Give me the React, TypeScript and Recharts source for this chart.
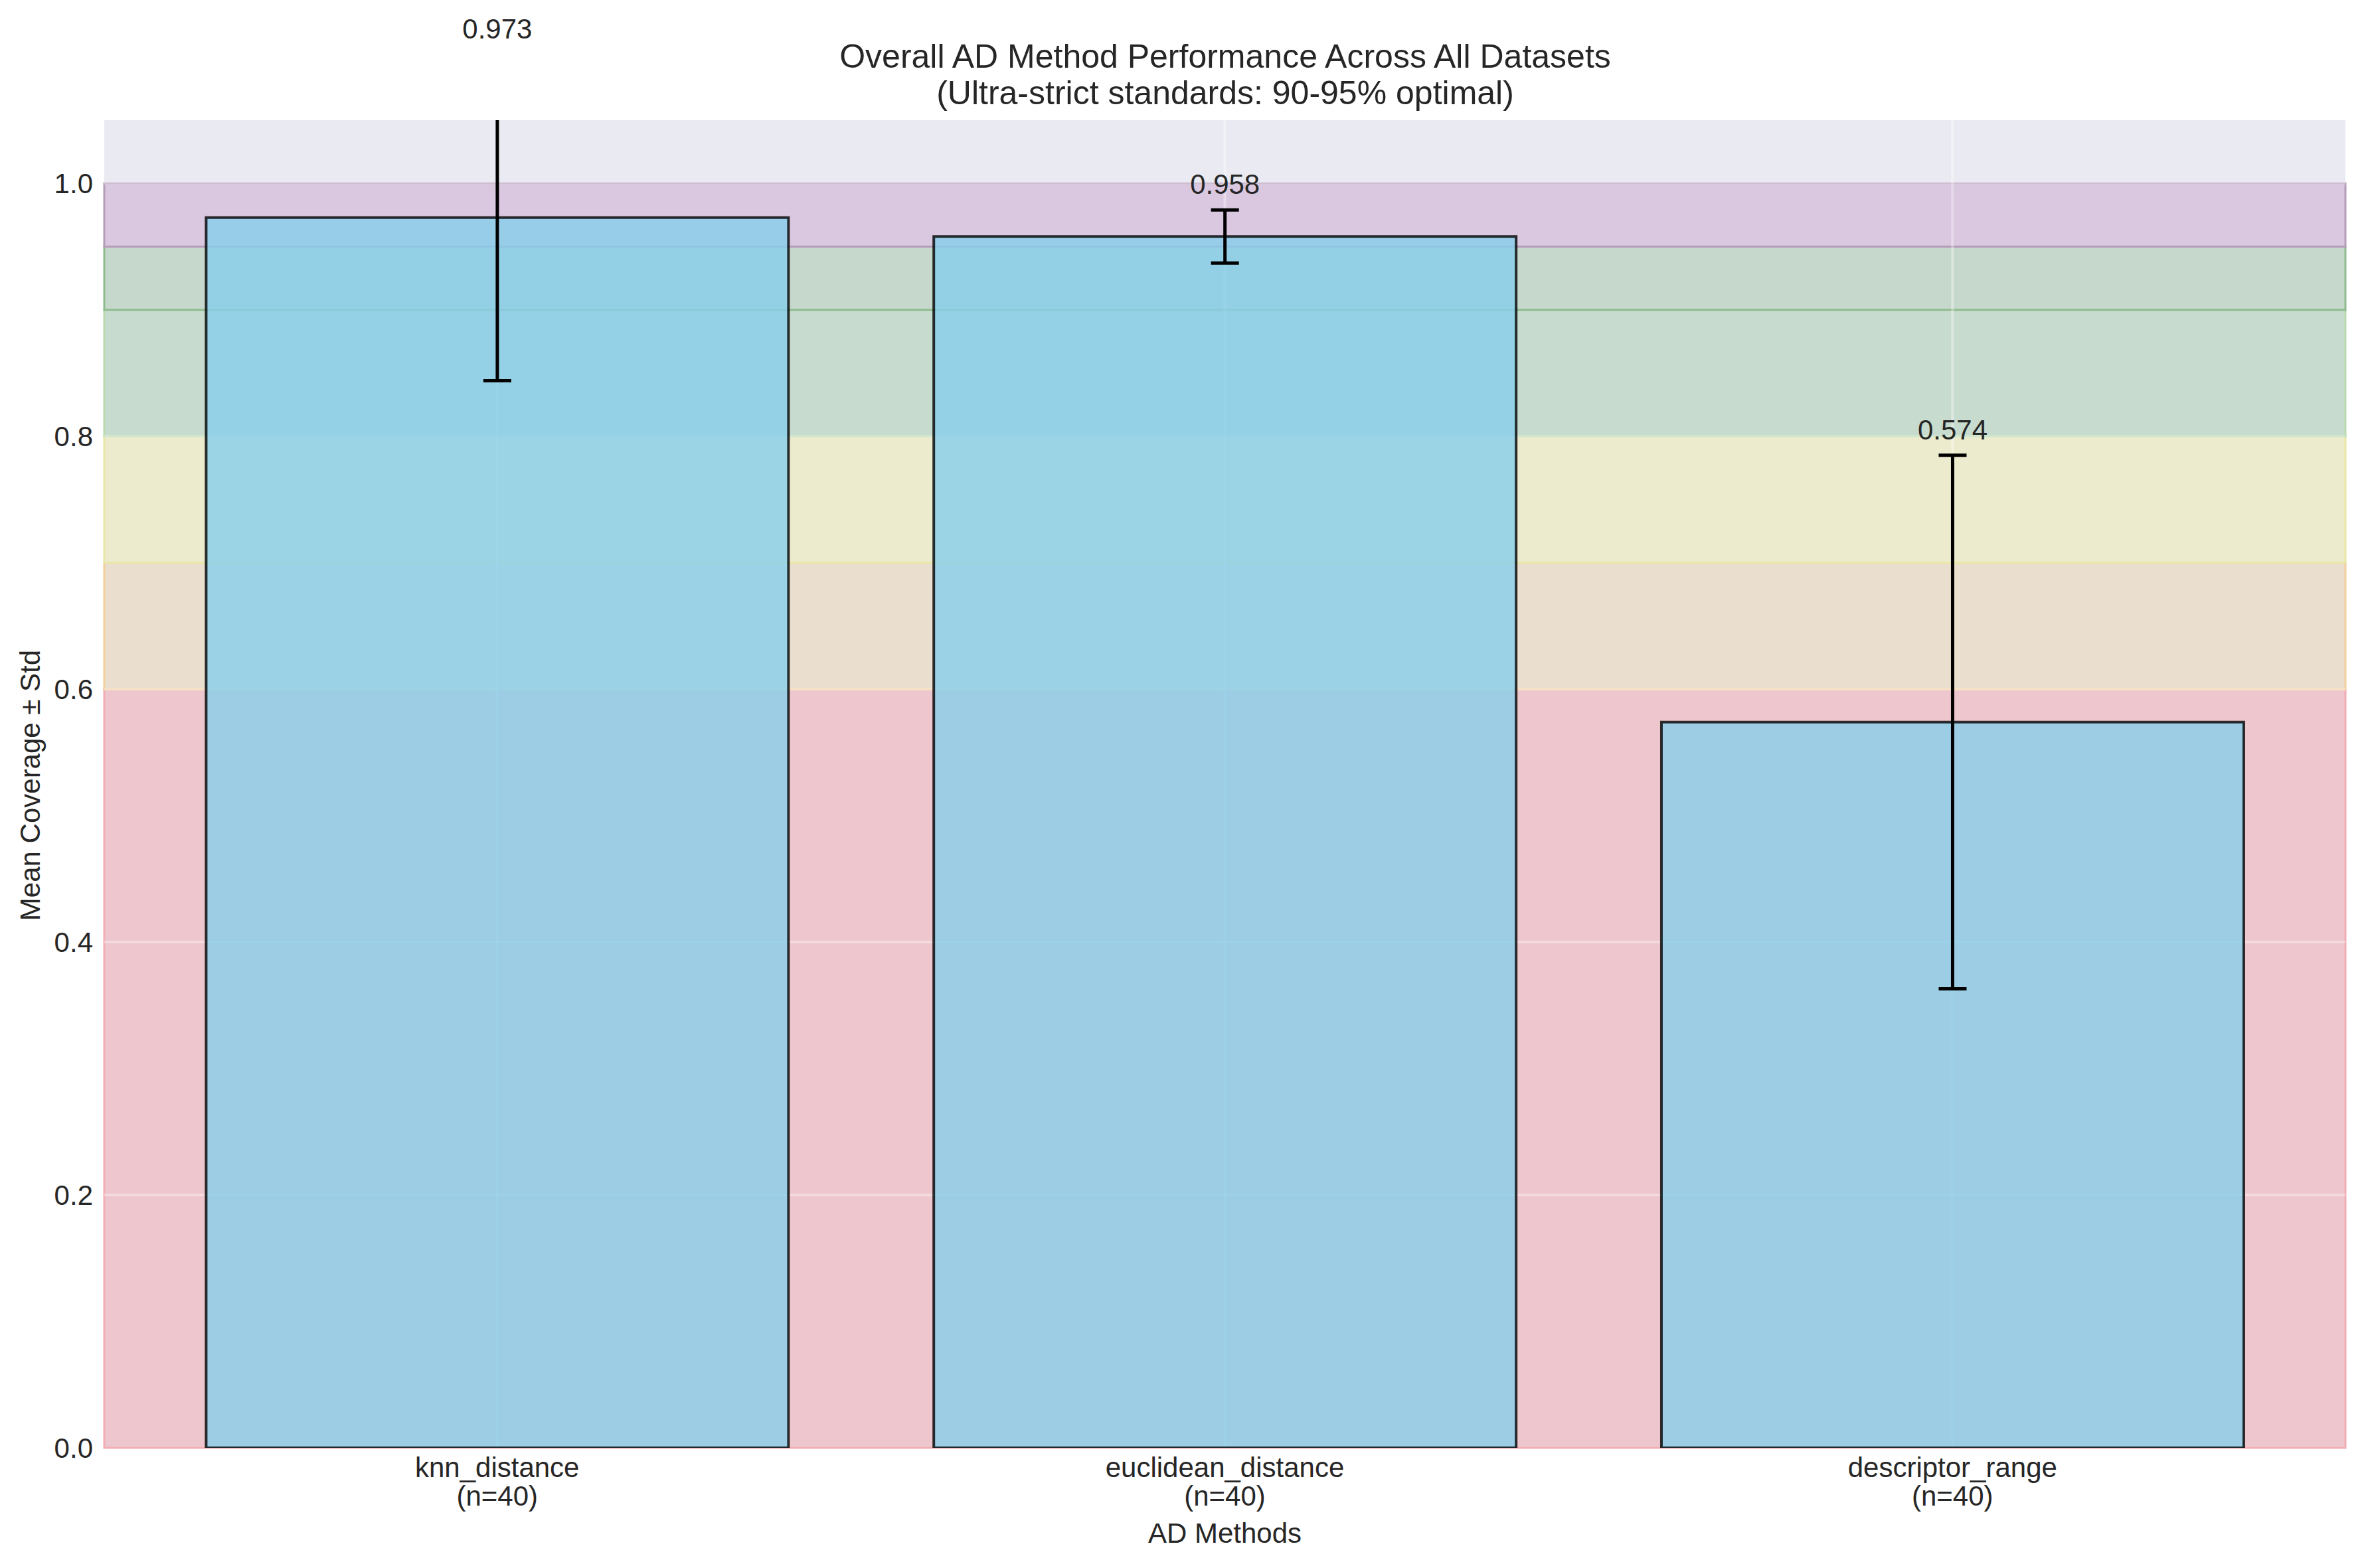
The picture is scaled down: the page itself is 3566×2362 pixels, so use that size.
import React from "react";
import {
  BarChart,
  Bar,
  XAxis,
  YAxis,
  LabelList,
  ReferenceArea,
  ReferenceLine,
  CartesianGrid,
} from "recharts";

const methods = ["knn_distance", "euclidean_distance", "descriptor_range"];
const sampleCounts = [40, 40, 40];
const meanCoverage = [0.973, 0.958, 0.574];
const stdCoverage = [0.129, 0.021, 0.211];

const yTicks = [0, 0.2, 0.4, 0.6, 0.8, 1.0];
const Y_MAX = 1.05;

// coverage quality zones
const zoneLows = [0, 0.6, 0.7, 0.8, 0.9, 0.95];
const zoneHighs = [0.6, 0.7, 0.8, 0.9, 0.95, 1.0];
const zoneFills = ["#eec6ce", "#eadfcf", "#ecebce", "#c8dbcf", "#c6d8cc", "#dac7e0"];
const zoneEdges = ["#f2aeb4", "#f3cf9e", "#e9e7a6", "#b9d9ae", "#8fbc8f", "#b59cb8"];

const data = methods.map((m, i) => ({
  pos: i,
  method: m,
  mean: meanCoverage[i],
  std: stdCoverage[i],
}));

const FONT = "'Liberation Sans', Arial, sans-serif";
const TEXT = "#262626";

const MethodTick = (props: any) => {
  const { x, y, payload } = props;
  const i = Math.round(payload.value);
  return (
    <text x={x} y={y} textAnchor="middle" fill={TEXT} fontSize={42} fontFamily={FONT}>
      <tspan x={x} dy={44}>{methods[i]}</tspan>
      <tspan x={x} dy={43}>(n={sampleCounts[i]})</tspan>
    </text>
  );
};

// error bar (clipped at the top of the axes) and value text, both taken
// from the bar's own geometry
const ErrorWithLabel = (props: any) => {
  const vb = props.viewBox ?? props;
  const i = props.index ?? 0;
  const mean = meanCoverage[i];
  const sd = stdCoverage[i];
  const ppu = vb.height / mean;
  const base = vb.y + vb.height;
  const plotTop = base - Y_MAX * ppu;
  const cx = vb.x + vb.width / 2;
  const yHi = base - (mean + sd) * ppu;
  const yLo = base - (mean - sd) * ppu;
  const cap = 21;
  return (
    <g>
      <line x1={cx} x2={cx} y1={Math.max(yHi, plotTop)} y2={yLo} stroke="#000" strokeWidth={5} />
      {yHi >= plotTop && (
        <line x1={cx - cap} x2={cx + cap} y1={yHi} y2={yHi} stroke="#000" strokeWidth={5} />
      )}
      <line x1={cx - cap} x2={cx + cap} y1={yLo} y2={yLo} stroke="#000" strokeWidth={5} />
      <text
        x={cx}
        y={yHi - 0.01 * ppu - 5}
        textAnchor="middle"
        fill={TEXT}
        fontSize={42}
        fontFamily={FONT}
      >
        {mean.toFixed(3)}
      </text>
    </g>
  );
};

export default function App() {
  return (
    <div style={{ margin: -8, width: 3566, height: 2362, background: "#fff" }}>
      <BarChart
        width={3566}
        height={2362}
        data={data}
        margin={{ top: 181, right: 34, bottom: 31, left: 0 }}
        barCategoryGap="10%"
      >
        <CartesianGrid fill="#eaeaf2" horizontal={false} vertical={false} />

        {zoneLows.map((lo, i) => (
          <ReferenceArea
            key={"zone" + i}
            y1={lo}
            y2={zoneHighs[i]}
            fill={zoneFills[i]}
            fillOpacity={1}
            stroke={zoneEdges[i]}
            strokeWidth={3}
            zIndex={100}
          />
        ))}

        {/* white grid, above the zones but under the bars */}
        {yTicks.slice(1).map((t) => (
          <ReferenceLine
            key={"gy" + t}
            y={t}
            stroke="#fff"
            strokeOpacity={0.35}
            strokeWidth={4}
            zIndex={200}
          />
        ))}
        {data.map((d) => (
          <ReferenceLine
            key={"gx" + d.pos}
            x={d.pos}
            stroke="#fff"
            strokeOpacity={0.35}
            strokeWidth={4}
            zIndex={200}
          />
        ))}

        <XAxis
          type="number"
          dataKey="pos"
          domain={[-0.54, 2.54]}
          allowDataOverflow
          ticks={[0, 1, 2]}
          axisLine={false}
          tickLine={false}
          tickSize={0}
          tickMargin={0}
          interval={0}
          height={150}
          tick={<MethodTick />}
          label={{
            value: "AD Methods",
            position: "insideBottom",
            offset: 7,
            fill: TEXT,
            fontSize: 42,
            fontFamily: FONT,
          }}
        />
        <YAxis
          type="number"
          domain={[0, Y_MAX]}
          allowDataOverflow
          ticks={yTicks}
          tickFormatter={(v: number) => v.toFixed(1)}
          axisLine={false}
          tickLine={false}
          tickSize={0}
          tickMargin={17}
          width={157}
          tick={{ fill: TEXT, fontSize: 42, fontFamily: FONT }}
        />

        <Bar
          dataKey="mean"
          fill="#87ceeb"
          fillOpacity={0.8}
          stroke="#000"
          strokeOpacity={0.8}
          strokeWidth={4}
          isAnimationActive={false}
        >
          <LabelList dataKey="mean" content={<ErrorWithLabel />} />
        </Bar>

        <text x={1845} y={102} textAnchor="middle" fill={TEXT} fontSize={50} fontFamily={FONT}>
          Overall AD Method Performance Across All Datasets
        </text>
        <text x={1845} y={157} textAnchor="middle" fill={TEXT} fontSize={50} fontFamily={FONT}>
          (Ultra-strict standards: 90-95% optimal)
        </text>
        <text
          transform="translate(60,1183) rotate(-90)"
          textAnchor="middle"
          fill={TEXT}
          fontSize={42}
          fontFamily={FONT}
        >
          Mean Coverage ± Std
        </text>
      </BarChart>
    </div>
  );
}
